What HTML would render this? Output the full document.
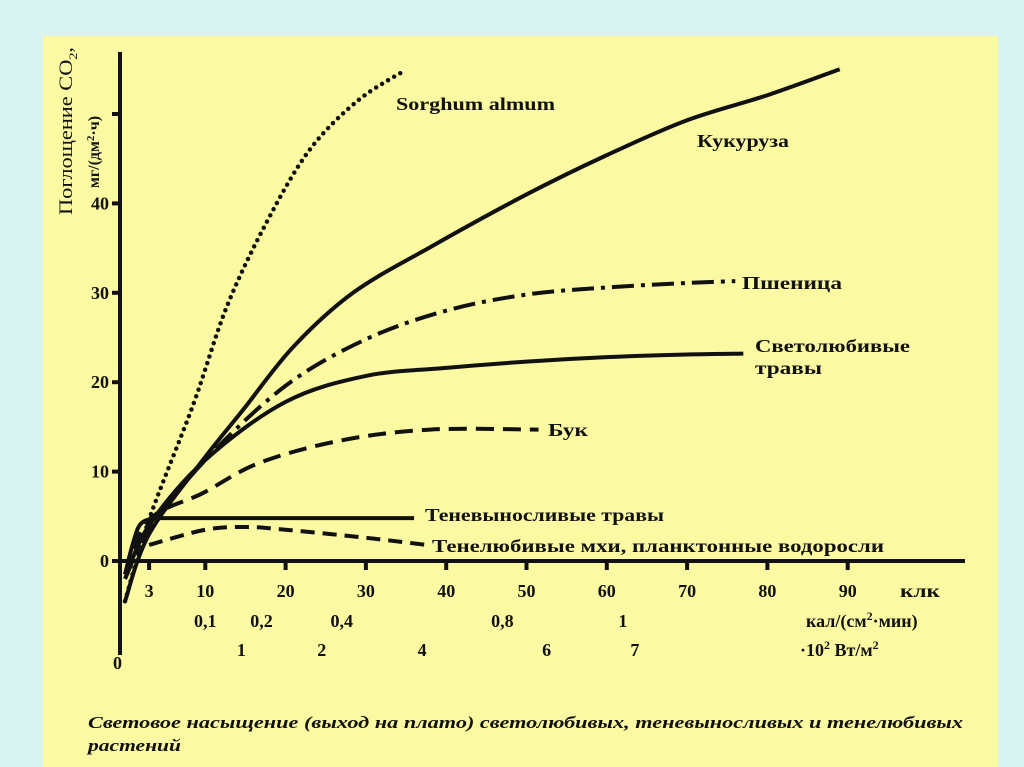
<!DOCTYPE html>
<html><head><meta charset="utf-8"><style>
html,body{margin:0;padding:0;background:#d8f3f0;}
svg{display:block;font-family:"Liberation Serif",serif;}
</style></head><body>
<svg width="1024" height="767" viewBox="0 0 1024 767">
<rect x="43" y="36" width="955" height="731" fill="#fbf9a2"/>
<g id="plot"></g>
<g id="labels" font-weight="bold" font-size="18" fill="#111">
<text x="396" y="110" textLength="159" lengthAdjust="spacingAndGlyphs">Sorghum almum</text>
<text x="697" y="147" textLength="92" lengthAdjust="spacingAndGlyphs">Кукуруза</text>
<text x="742" y="289" textLength="100" lengthAdjust="spacingAndGlyphs">Пшеница</text>
<text x="755" y="352" textLength="155" lengthAdjust="spacingAndGlyphs">Светолюбивые</text>
<text x="755" y="374" textLength="67" lengthAdjust="spacingAndGlyphs">травы</text>
<text x="548" y="436" textLength="40" lengthAdjust="spacingAndGlyphs">Бук</text>
<text x="425" y="521" textLength="239" lengthAdjust="spacingAndGlyphs">Теневыносливые травы</text>
<text x="432" y="552" textLength="452" lengthAdjust="spacingAndGlyphs">Тенелюбивые мхи, планктонные водоросли</text>
<text x="900" y="597" textLength="40" lengthAdjust="spacingAndGlyphs">клк</text>
<text x="806" y="627">кал/(см<tspan dy="-7" font-size="12">2</tspan><tspan dy="7">·мин)</tspan></text>
<text x="800" y="656">·10<tspan dy="-7" font-size="12">2</tspan><tspan dy="7"> Вт/м</tspan><tspan dy="-7" font-size="12">2</tspan></text>
<text x="113" y="669">0</text>
<text transform="translate(72,215) rotate(-90)" font-weight="normal" font-size="19" textLength="168" lengthAdjust="spacingAndGlyphs">Поглощение CO<tspan dy="5" font-size="12">2</tspan><tspan dy="-5">,</tspan></text>
<text transform="translate(99,188) rotate(-90)" font-size="16">мг/(дм<tspan dy="-5" font-size="11">2</tspan><tspan dy="5">·ч)</tspan></text>
<text x="88" y="728" font-style="italic" font-size="17" textLength="875" lengthAdjust="spacingAndGlyphs">Световое насыщение (выход на плато) светолюбивых, теневыносливых и тенелюбивых</text>
<text x="88" y="751" font-style="italic" font-size="17" textLength="93" lengthAdjust="spacingAndGlyphs">растений</text>
</g>
</svg>
<script>
const xTicks=[3,10,20,30,40,50,60,70,80,90];
const yTicks=[0,10,20,30,40,50];
const yTickLabels=["0","10","20","30","40",""];
const calLabels=["0,1","0,2","0,4","0,8","1"];
const calPos=[10,17,27,47,62];
const wLabels=["1","2","4","6","7"];
const wPos=[14.5,24.5,37,52.5,63.5];
const xSorghum=[0,3.1,8.5,12.7,17.7,23,29,34.9];
const ySorghum=[-4.5,4.9,17.5,28.5,38,46,51.5,54.9];
const xMaize=[0,3,9.7,14.7,20.9,28.4,38,50,60,70,80,89];
const yMaize=[-4.5,3,11.3,16.9,23.9,30,35.1,41,45.4,49.3,52.1,55];
const xWheat=[0,3,10,20,30,40,50,60,70,76];
const yWheat=[-2,3.5,11.3,19.6,24.8,28,29.8,30.6,31.1,31.3];
const xSun=[0,3,10,20,30,40,50,60,70,77];
const ySun=[-2,4,11.3,17.8,20.7,21.6,22.3,22.8,23.1,23.2];
const xBeech=[0,3,9.7,16.8,27,38,51.5];
const yBeech=[-1.5,4.6,7.6,11,13.5,14.7,14.7];
const xShadeTol=[0,1,2,4,6,36];
const yShadeTol=[-1.5,2,4.2,4.8,4.8,4.8];
const xShadeLov=[3,10,15,20,30,37.5];
const yShadeLov=[1.8,3.5,3.8,3.5,2.6,1.8];
const NS="http://www.w3.org/2000/svg";
const sx=v=>125+8.03*v, sy=v=>561-8.94*v;
const plot=document.getElementById('plot');
function el(t,a){const e=document.createElementNS(NS,t);for(const k in a)e.setAttribute(k,a[k]);plot.appendChild(e);return e;}
function smooth(xs,ys){const p=xs.map((x,i)=>[sx(x),sy(ys[i])]);let d="M"+p[0][0]+","+p[0][1];
for(let i=0;i<p.length-1;i++){const p0=p[i-1]||p[i],p1=p[i],p2=p[i+1],p3=p[i+2]||p2;
d+=" C"+(p1[0]+(p2[0]-p0[0])/6)+","+(p1[1]+(p2[1]-p0[1])/6)+" "+(p2[0]-(p3[0]-p1[0])/6)+","+(p2[1]-(p3[1]-p1[1])/6)+" "+p2[0]+","+p2[1];}return d;}
const ax=el('path',{d:"M120,52 V655 M118,561 H965",stroke:"#111","stroke-width":4,fill:"none"});


xTicks.forEach(v=>{const t=el('line',{x1:sx(v),x2:sx(v),y1:561,y2:570,stroke:"#111","stroke-width":4});


const l=el('text',{x:sx(v),y:597,"text-anchor":"middle","font-weight":"bold","font-size":18,fill:"#111"});l.textContent=v;

});
yTicks.forEach((v,i)=>{const t=el('line',{x1:112,x2:120,y1:sy(v),y2:sy(v),stroke:"#111","stroke-width":4});


const l=el('text',{x:109,y:sy(v)+6,"text-anchor":"end","font-weight":"bold","font-size":18,fill:"#111"});l.textContent=yTickLabels[i];

});
calLabels.forEach((s,i)=>{const l=el('text',{x:sx(calPos[i]),y:627,"text-anchor":"middle","font-weight":"bold","font-size":18,fill:"#111"});l.textContent=s;

});
wLabels.forEach((s,i)=>{const l=el('text',{x:sx(wPos[i]),y:656,"text-anchor":"middle","font-weight":"bold","font-size":18,fill:"#111"});l.textContent=s;

});
const series=[
["line-sorghum",xSorghum,ySorghum,{"stroke-dasharray":"0 7","stroke-linecap":"round","stroke-width":4.5}],
["line-maize",xMaize,yMaize,{"stroke-width":4}],
["line-wheat",xWheat,yWheat,{"stroke-width":4,"stroke-dasharray":"22 7 4 7"}],
["line-sun-grasses",xSun,ySun,{"stroke-width":4}],
["line-beech",xBeech,yBeech,{"stroke-width":4,"stroke-dasharray":"18 9"}],
["line-shade-tolerant",xShadeTol,yShadeTol,{"stroke-width":4}],
["line-shade-loving",xShadeLov,yShadeLov,{"stroke-width":4,"stroke-dasharray":"14 8"}]];
series.forEach(s=>{const a=Object.assign({d:smooth(s[1],s[2]),stroke:"#111",fill:"none"},s[3]);const p=el('path',a);

});
</script>
</body></html>
